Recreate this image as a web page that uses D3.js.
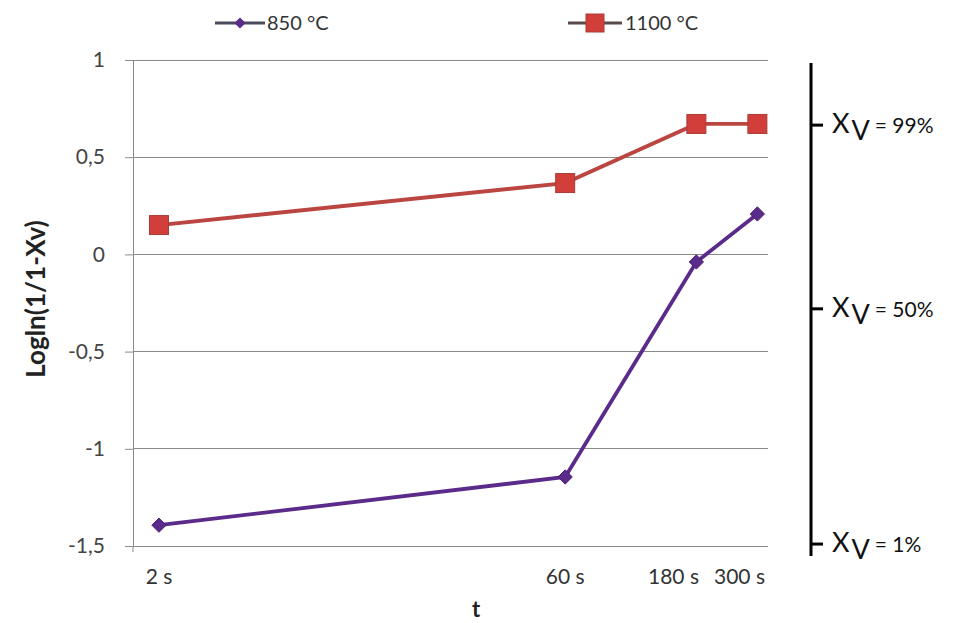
<!DOCTYPE html>
<html><head><meta charset="utf-8">
<script src="https://cdn.jsdelivr.net/npm/d3@7"></script>
<style>body{margin:0;background:#fff}svg{display:block;font-family:Lato,"Open Sans",sans-serif}</style>
</head><body><svg id="c" width="954" height="623"></svg>
<script>
const times = [2, 60, 180, 300];
const timeLabels = ["2 s", "60 s", "180 s", "300 s"];
const series850 = [-1.393, -1.145, -0.039, 0.208];
const series1100 = [0.151, 0.367, 0.671, 0.671];
const seriesNames = ["850 °C", "1100 °C"];
const yTicks = [1, 0.5, 0, -0.5, -1, -1.5];
const xvLevels = [0.665, -0.28, -1.49];
const xvLabels = ["99%", "50%", "1%"];

const svg = d3.select("#c");
const x = d3.scaleLog().domain([1.609, 327.9]).range([133, 768]);
const y = d3.scaleLinear().domain([-1.5, 1]).range([546, 60]);
const fmt = v => String(v).replace(".", ",");

// gridlines
svg.append("g").selectAll("line").data(yTicks.filter(v => v !== -1.5)).join("line")
  .attr("x1", 133).attr("x2", 768).attr("y1", d => y(d)).attr("y2", d => y(d))
  .attr("stroke", "#8a8a8a").attr("stroke-width", 1).attr("shape-rendering", "crispEdges");

// y axis
const yAxis = svg.append("g").attr("transform", "translate(133,0)")
  .call(d3.axisLeft(y).tickValues(yTicks).tickFormat(fmt).tickSize(8).tickPadding(20));
yAxis.select(".domain").attr("stroke", "#8a8a8a");
yAxis.selectAll(".tick line").attr("stroke", "#8a8a8a");
yAxis.selectAll("text").attr("font-size", 21).attr("fill", "#444").attr("font-family", "Lato");

// x axis line
svg.append("line").attr("x1", 133).attr("x2", 768).attr("y1", y(-1.5)).attr("y2", y(-1.5))
  .attr("stroke", "#8a8a8a").attr("shape-rendering", "crispEdges");
svg.append("line").attr("x1", 133).attr("x2", 133).attr("y1", y(-1.5)).attr("y2", y(-1.5) + 6)
  .attr("stroke", "#8a8a8a");

// x tick labels with simple collision layout
const xl = svg.append("g").selectAll("text").data(timeLabels).join("text")
  .attr("y", 584).attr("font-size", 21).attr("fill", "#333").text(d => d);
const widths = xl.nodes().map(n => n.getComputedTextLength());
const lefts = [];
const n = times.length;
for (let i = n - 1; i >= 0; i--) {
  let l = x(times[i]) - widths[i] / 2;
  if (i === n - 1) l = Math.min(l, 765 - widths[i]);
  else l = Math.min(l, lefts[i + 1] - 15 - widths[i]);
  lefts[i] = l;
}
xl.attr("x", (d, i) => lefts[i]);

// axis titles
svg.append("text").attr("x", 476).attr("y", 617).attr("text-anchor", "middle")
  .attr("font-size", 22).attr("font-weight", "bold").attr("fill", "#222").text("t");
svg.append("text").attr("transform", "translate(45,299) rotate(-90)").attr("text-anchor", "middle")
  .attr("font-size", 26).attr("font-weight", "bold").attr("fill", "#222").text("Logln(1/1-Xv)");

// lines
const line = d3.line().x((d, i) => x(times[i])).y(d => y(d));
const purple = "#5a2b8a", red = "#bb4541";
svg.append("path").datum(series850).attr("d", line).attr("fill", "none").attr("stroke", purple).attr("stroke-width", 3.8);
svg.append("path").datum(series1100).attr("d", line).attr("fill", "none").attr("stroke", red).attr("stroke-width", 3.8);

const diamond = d3.symbol().type(d3.symbolDiamond2).size(130);
svg.append("g").selectAll("path").data(series850).join("path")
  .attr("d", diamond).attr("transform", (d, i) => `translate(${x(times[i])},${y(d)})`)
  .attr("fill", purple).attr("stroke", "#4a2275").attr("stroke-width", 1);
svg.append("g").selectAll("rect").data(series1100).join("rect")
  .attr("x", (d, i) => x(times[i]) - 9.5).attr("y", d => y(d) - 9.5).attr("width", 19).attr("height", 19)
  .attr("fill", "#d23f3a").attr("stroke", "#a83c39").attr("stroke-width", 1);

// legend
const lg = svg.append("g");
lg.append("line").attr("x1", 215).attr("x2", 265).attr("y1", 23).attr("y2", 23).attr("stroke", "#4b4b5a").attr("stroke-width", 3);
lg.append("path").attr("d", d3.symbol().type(d3.symbolDiamond2).size(80)).attr("transform", "translate(240,23)").attr("fill", purple);
lg.append("text").attr("x", 267).attr("y", 30).attr("font-size", 20).attr("fill", "#333").text(seriesNames[0]);
lg.append("line").attr("x1", 568).attr("x2", 622).attr("y1", 23).attr("y2", 23).attr("stroke", "#5a4a4a").attr("stroke-width", 3);
lg.append("rect").attr("x", 586).attr("y", 14).attr("width", 18).attr("height", 18).attr("fill", "#d23f3a").attr("stroke", "#a83c39");
lg.append("text").attr("x", 625).attr("y", 30).attr("font-size", 20).attr("fill", "#333").text(seriesNames[1]);

// right Xv annotation scale
const ann = svg.append("g");
ann.append("line").attr("x1", 811).attr("x2", 811).attr("y1", 63).attr("y2", 556).attr("stroke", "#000").attr("stroke-width", 3);
const at = ann.selectAll("g").data(xvLevels).join("g").attr("transform", d => `translate(811,${y(d)})`);
at.append("line").attr("x1", 0).attr("x2", 12).attr("stroke", "#000").attr("stroke-width", 3);
const tt = at.append("text").attr("x", 21).attr("y", 8).attr("fill", "#111");
tt.append("tspan").attr("font-size", 27).text("X");
tt.append("tspan").attr("font-size", 27).attr("dy", 7).attr("dx", 2).text("V");
tt.append("tspan").attr("font-size", 21).attr("dy", -7).attr("dx", 5).text((d, i) => "= " + xvLabels[i]);
</script></body></html>
